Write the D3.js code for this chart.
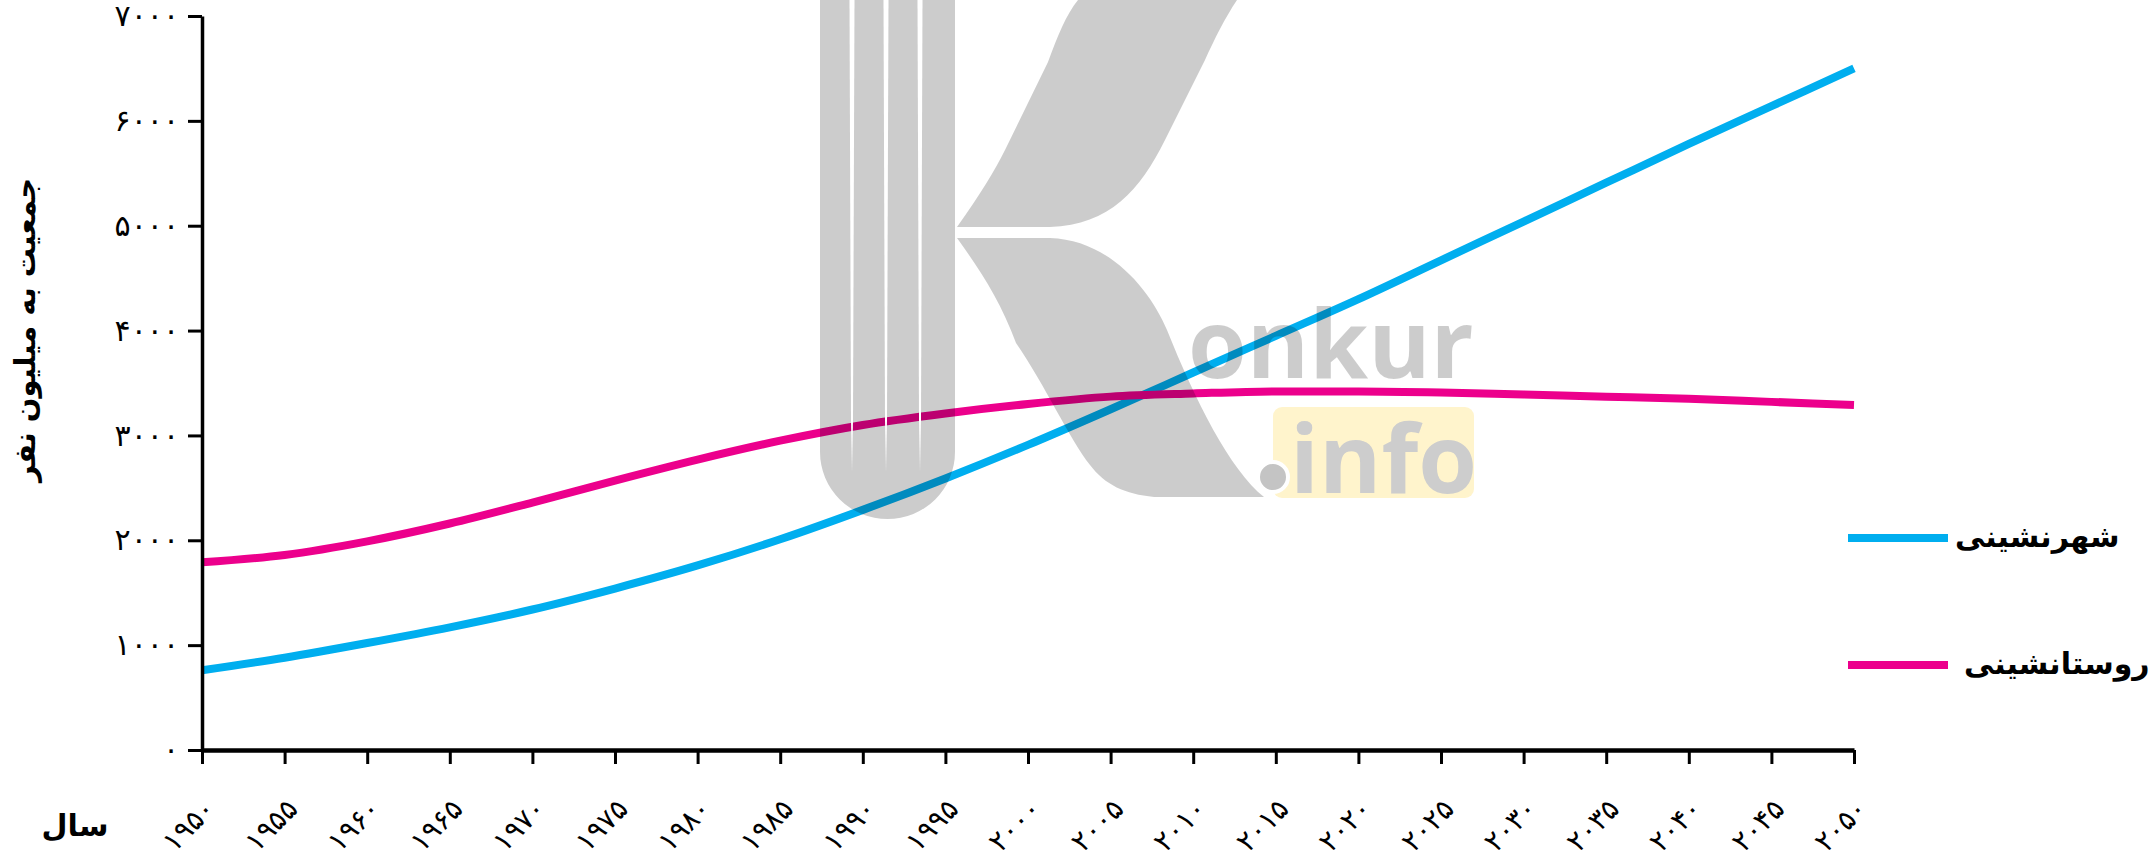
<!DOCTYPE html>
<html>
<head>
<meta charset="utf-8">
<script src="https://cdn.jsdelivr.net/npm/d3@7"></script>
<style>
	body { margin: 0; background: #fff; }
	svg { display: block; }
	.axis path, .axis line { stroke: #000; }
	.tick text { font-family: "DejaVu Sans", sans-serif; fill: #000; }
</style>
</head>
<body>
<div id="chart"></div>
<script>
// chart data (millions of people)
var years = [1950, 1955, 1960, 1965, 1970, 1975, 1980, 1985, 1990, 1995, 2000,
	2005, 2010, 2015, 2020, 2025, 2030, 2035, 2040, 2045, 2050];
var urban = [760, 880, 1020, 1170, 1340, 1540, 1760, 2010, 2290, 2590, 2910,
	3250, 3600, 3950, 4300, 4670, 5040, 5410, 5780, 6140, 6500];
var rural = [1790, 1860, 1990, 2160, 2360, 2570, 2770, 2950, 3100, 3210, 3300,
	3370, 3400, 3420, 3420, 3410, 3390, 3370, 3350, 3320, 3290];
var yTicks = [0, 1000, 2000, 3000, 4000, 5000, 6000, 7000];
var seriesNames = ['شهرنشینی', 'روستانشینی'];
var seriesColors = ['#00aeef', '#ec008c'];
var yTitle = 'جمعیت به میلیون نفر';
var xTitle = 'سال';

var W = 2154, H = 862;

// latin digits -> persian digits
function fa(n){
	return String(n).replace(/[0-9]/g, function(d){ return '۰۱۲۳۴۵۶۷۸۹'[+d]; });
}

var svg = d3.select('#chart')
	.append('svg')
	.attr('width', W)
	.attr('height', H);

var x = d3.scaleLinear().domain([1950, 2050]).range([202, 1854]);
var y = d3.scaleLinear().domain([0, 7000]).range([750, 16]);

// lines
var line = d3.line()
	.x(function(d){ return x(d[0]); })
	.y(function(d){ return y(d[1]); })
	.curve(d3.curveMonotoneX);

[urban, rural].forEach(function(vals, i){
	svg.append('path')
		.datum(years.map(function(yr, j){ return [yr, vals[j]]; }))
		.attr('fill', 'none')
		.attr('stroke', seriesColors[i])
		.attr('stroke-width', 8)
		.attr('d', line);
});

// y axis
var yAxis = svg.append('g')
	.attr('class', 'axis')
	.attr('transform', 'translate(202,0)')
	.call(d3.axisLeft(y).tickValues(yTicks).tickSize(14).tickSizeOuter(0).tickPadding(9).tickFormat(fa));
yAxis.select('.domain').attr('stroke-width', 3.5);
yAxis.selectAll('.tick line').attr('stroke-width', 3);
yAxis.selectAll('.tick text')
	.style('font-size', '30px')
	.style('letter-spacing', '7px')
	.attr('dy', '0.32em');

// x axis
var xAxis = svg.append('g')
	.attr('class', 'axis')
	.attr('transform', 'translate(0,750)')
	.call(d3.axisBottom(x).tickValues(years).tickSize(14).tickSizeOuter(0).tickFormat(fa));
xAxis.select('.domain').attr('stroke-width', 4.5);
xAxis.selectAll('.tick line').attr('stroke-width', 3);
xAxis.selectAll('.tick text')
	.style('font-size', '28px')
	.style('letter-spacing', '3px')
	.attr('text-anchor', 'middle')
	.attr('y', 0)
	.attr('dy', '0.35em')
	.attr('transform', 'translate(-14,75) rotate(-45)');

// axis titles
svg.append('text')
	.attr('transform', 'translate(35,330) rotate(-90)')
	.attr('text-anchor', 'middle')
	.style('font-family', '"DejaVu Sans", sans-serif')
	.style('font-weight', 'bold')
	.style('font-size', '29px')
	.text(yTitle);

svg.append('text')
	.attr('x', 75)
	.attr('y', 836)
	.attr('text-anchor', 'middle')
	.style('font-family', '"DejaVu Sans", sans-serif')
	.style('font-weight', 'bold')
	.style('font-size', '30px')
	.text(xTitle);

// legend
var legendY = [538, 665];
seriesNames.forEach(function(name, i){
	svg.append('line')
		.attr('x1', 1848).attr('x2', 1948)
		.attr('y1', legendY[i]).attr('y2', legendY[i])
		.attr('stroke', seriesColors[i])
		.attr('stroke-width', 8);
	svg.append('text')
		.attr('x', 1955 + i * 9)
		.attr('y', legendY[i])
		.attr('dy', '0.3em')
		.attr('text-anchor', 'start')
		.style('font-family', '"DejaVu Sans", sans-serif')
		.style('font-weight', 'bold')
		.style('font-size', '30px')
		.text(name);
});

// watermark logo, drawn over the chart
var wm = svg.append('g').attr('class', 'watermark');
var shade = 'rgba(0,0,0,0.2)';
wm.append('path')
	.attr('d', 'M820,0 H955 V452 A67.5,67 0 0 1 820,452 Z')
	.attr('fill', shade);
[852, 886, 920].forEach(function(sx){
	wm.append('path')
		.attr('d', 'M' + (sx - 2.5) + ',0 H' + (sx + 2.5) + ' L' + (sx + 1) + ',420 L' + sx + ',472 L' + (sx - 1) + ',420 Z')
		.attr('fill', '#fff');
});
// upper arm of the K
wm.append('path')
	.attr('d', 'M1078,0 H1237 C1225,18 1215,38 1205,60 L1165,140 C1140,190 1110,225 1050,227 H957 ' +
		'C980,195 995,170 1005,150 L1048,62 C1058,35 1066,15 1078,0 Z')
	.attr('fill', shade);
// lower arm of the K
wm.append('path')
	.attr('d', 'M957,238 H1050 C1110,240 1150,290 1167,330 C1195,400 1230,470 1264,497 H1154 ' +
		'C1125,494 1105,485 1090,465 C1070,440 1045,385 1016,343 C1000,300 980,270 957,238 Z')
	.attr('fill', shade);
wm.append('text')
	.attr('x', 1188).attr('y', 378)
	.style('font-family', '"Open Sans", sans-serif')
	.style('font-weight', 'bold')
	.style('font-size', '95px')
	.attr('fill', shade)
	.text('onkur');
wm.append('rect')
	.attr('x', 1273).attr('y', 407)
	.attr('width', 201).attr('height', 91)
	.attr('rx', 9)
	.attr('fill', 'rgba(255,200,0,0.2)');
wm.append('text')
	.attr('x', 1290).attr('y', 493)
	.style('font-family', '"Open Sans", sans-serif')
	.style('font-weight', 'bold')
	.style('font-size', '95px')
	.attr('fill', '#cdcdcd')
	.text('info');
wm.append('circle')
	.attr('cx', 1273).attr('cy', 477).attr('r', 15)
	.attr('fill', '#c4c4c4')
	.attr('stroke', '#fff')
	.attr('stroke-width', 4);
</script>
</body>
</html>
